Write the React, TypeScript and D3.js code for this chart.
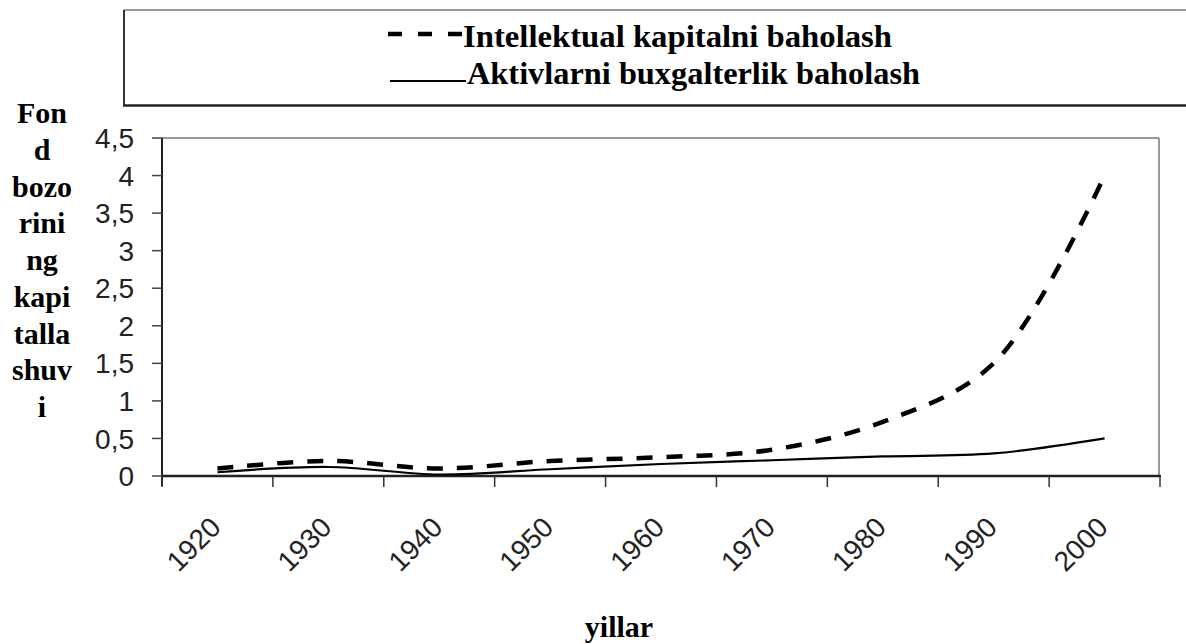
import React from "react";
import * as d3 from "d3";

const years = ["1920", "1930", "1940", "1950", "1960", "1970", "1980", "1990", "2000"];
const intellektual = [0.1, 0.2, 0.1, 0.2, 0.25, 0.35, 0.72, 1.5, 4.0];
const aktivlar = [0.05, 0.12, 0.02, 0.09, 0.16, 0.21, 0.26, 0.3, 0.5];
const yTicks = [0, 0.5, 1, 1.5, 2, 2.5, 3, 3.5, 4, 4.5];
const legendLabels = ["Intellektual kapitalni baholash", "Aktivlarni buxgalterlik baholash"];
const yTitleLines = ["Fon", "d", "bozo", "rini", "ng", "kapi", "talla", "shuv", "i"];
const xTitle = "yillar";

const W = 1186;
const H = 644;
const left = 162;
const right = 1160;
const top = 138;
const bottom = 476;

const serif = '"Liberation Serif", "Times New Roman", Times, "DejaVu Serif", "Noto Serif", serif';
const sans = '"Liberation Sans", Arial, Helvetica, sans-serif';

export default function App() {
  const x = d3.scaleBand<string>().domain(years).range([left, right]).paddingInner(0).paddingOuter(0);
  const bw = x.bandwidth();
  const cx = (c: string) => (x(c) as number) + bw / 2;
  const y = d3.scaleLinear().domain([0, 4.5]).range([bottom, top]);

  const line = d3
    .line<number>()
    .x((_, i) => cx(years[i]))
    .y((d) => y(d))
    .curve(d3.curveCatmullRom.alpha(0.5));

  const boundaries = [...years.map((c) => x(c) as number), right];
  const serifStyle = { fontFamily: serif, fontWeight: 700 } as React.CSSProperties;
  const sansStyle = { fontFamily: sans } as React.CSSProperties;

  return (
    <svg
      width={W}
      height={H}
      style={{ position: "absolute", left: 0, top: 0, background: "#fff" }}
    >
      <rect x={0} y={0} width={W} height={H} fill="#fff" />
      {/* Legend box */}
      <line x1={124} y1={10} x2={W + 5} y2={10} stroke="#999" strokeWidth={2} />
      <line x1={124} y1={10} x2={124} y2={105.5} stroke="#333" strokeWidth={2} />
      <line x1={123} y1={105.5} x2={W + 5} y2={105.5} stroke="#222" strokeWidth={2.5} />
      <line x1={388} y1={34} x2={462} y2={34} stroke="#000" strokeWidth={4.5} strokeDasharray="14,16" />
      <text
        x={463}
        y={47}
        style={serifStyle}
        fontSize={32}
        fill="#000"
        textLength={429}
        lengthAdjust="spacingAndGlyphs"
      >
        {legendLabels[0]}
      </text>
      <line x1={390} y1={81} x2={466} y2={81} stroke="#000" strokeWidth={2} />
      <text
        x={467}
        y={83.5}
        style={serifStyle}
        fontSize={32}
        fill="#000"
        textLength={453}
        lengthAdjust="spacingAndGlyphs"
      >
        {legendLabels[1]}
      </text>

      {/* Y title */}
      {yTitleLines.map((t, i) => (
        <text
          key={i}
          x={42}
          y={123 + i * 36.75}
          textAnchor="middle"
          style={serifStyle}
          fontSize={30}
          fill="#000"
        >
          {t}
        </text>
      ))}

      {/* Plot border (top/right) */}
      <line x1={left} y1={top} x2={right - 1} y2={top} stroke="#999" strokeWidth={2} />
      <line x1={right - 1} y1={top} x2={right - 1} y2={bottom} stroke="#999" strokeWidth={2} />

      {/* Y axis */}
      <line x1={left} y1={top} x2={left} y2={bottom + 10} stroke="#222" strokeWidth={2} />
      {yTicks.map((v) => (
        <g key={v}>
          <line x1={left - 10} y1={y(v)} x2={left} y2={y(v)} stroke="#444" strokeWidth={1.5} />
          <text
            x={134}
            y={y(v)}
            dy="0.36em"
            textAnchor="end"
            style={sansStyle}
            fontSize={28}
            fill="#222"
          >
            {String(v).replace(".", ",")}
          </text>
        </g>
      ))}

      {/* X axis */}
      <line x1={left} y1={bottom} x2={right + 1} y2={bottom} stroke="#222" strokeWidth={2.5} />
      {boundaries.map((bx, i) => (
        <line key={i} x1={bx} y1={bottom} x2={bx} y2={bottom + 11} stroke="#333" strokeWidth={1.5} />
      ))}
      {years.map((c) => (
        <text
          key={c}
          transform={`translate(${cx(c) + 5},${529}) rotate(-45)`}
          textAnchor="end"
          style={sansStyle}
          fontSize={28}
          fill="#222"
        >
          {c}
        </text>
      ))}

      {/* Series */}
      <path d={line(aktivlar) || ""} fill="none" stroke="#000" strokeWidth={2.2} />
      <path
        d={line(intellektual) || ""}
        fill="none"
        stroke="#000"
        strokeWidth={4.5}
        strokeDasharray="16,14"
      />

      {/* X title */}
      <text x={619} y={637} textAnchor="middle" style={serifStyle} fontSize={30} fill="#000">
        {xTitle}
      </text>
    </svg>
  );
}
